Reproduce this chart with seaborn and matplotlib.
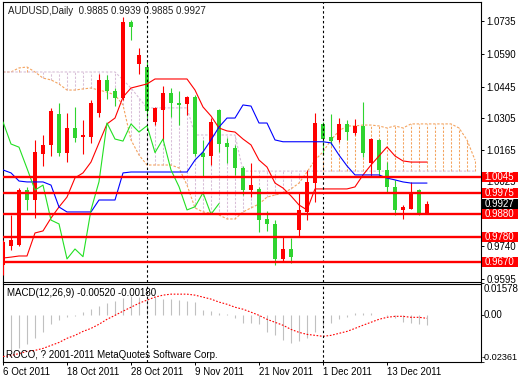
import numpy as np
import pandas as pd
import matplotlib
matplotlib.use("Agg")
import matplotlib.pyplot as plt
import matplotlib.transforms as mtransforms
from matplotlib.patches import Rectangle
import seaborn as sns

sns.set_theme(style="white")
plt.rcParams["font.family"] = ["Liberation Sans", "DejaVu Sans"]

# ---------------- data ----------------
symbol_title = "AUDUSD,Daily  0.9885 0.9939 0.9885 0.9927"
dates = pd.bdate_range("2011-10-06", periods=54)

opens = [0.9655, 0.9741, 0.9744, 0.9987, 0.9943, 1.0147, 1.0187, 1.0324, 1.0151, 1.0262,
         1.0220, 1.0222, 1.0328, 1.0475, 1.0426, 1.0395, 1.0732, 1.0546, 1.0532, 1.0289,
         1.0342, 1.0417, 1.0373, 1.0368, 1.0399, 1.0153, 1.0138, 1.0342, 1.0197, 1.0172,
         1.0086, 0.9987, 0.9990, 0.9859, 0.9837, 0.9682, 0.9726, 0.9810, 0.9891, 1.0020,
         1.0280, 1.0222, 1.0209, 1.0280, 1.0239, 1.0272, 1.0108, 1.0209, 1.0076, 1.0002,
         0.9899, 0.9903, 0.9987, 0.9885]
highs = [0.9766, 0.9877, 0.9996, 1.0002, 1.0209, 1.0231, 1.0351, 1.0373, 1.0328, 1.0355,
         1.0297, 1.0386, 1.0501, 1.0497, 1.0439, 1.0754, 1.0740, 1.0616, 1.0563, 1.0355,
         1.0448, 1.0439, 1.0426, 1.0404, 1.0408, 1.0209, 1.0306, 1.0346, 1.0218, 1.0187,
         1.0094, 1.0108, 1.0002, 0.9894, 0.9854, 0.9778, 0.9773, 0.9974, 1.0076, 1.0328,
         1.0289, 1.0324, 1.0306, 1.0297, 1.0302, 1.0379, 1.0219, 1.0213, 1.0113, 1.0032,
         0.9921, 1.0024, 0.9992, 0.9939]
lows = [0.9611, 0.9722, 0.9739, 0.9899, 0.9863, 1.0094, 1.0138, 1.0138, 1.0111, 1.0200,
        1.0147, 1.0196, 1.0311, 1.0390, 1.0359, 1.0386, 1.0652, 1.0501, 1.0306, 1.0275,
        1.0209, 1.0311, 1.0275, 1.0320, 1.0138, 1.0046, 1.0098, 1.0156, 1.0108, 1.0054,
        0.9965, 0.9958, 0.9803, 0.9807, 0.9655, 0.9670, 0.9663, 0.9780, 0.9854, 0.9935,
        1.0142, 1.0187, 1.0200, 1.0209, 1.0231, 1.0135, 1.0049, 1.0046, 0.9973, 0.9877,
        0.9858, 0.9903, 0.9877, 0.9885]
closes = [0.9758, 0.9766, 0.9987, 0.9943, 1.0157, 1.0187, 1.0337, 1.0151, 1.0262, 1.0218,
          1.0231, 1.0373, 1.0475, 1.0426, 1.0395, 1.0732, 1.0709, 1.0585, 1.0337, 1.0351,
          1.0417, 1.0373, 1.0364, 1.0399, 1.0147, 1.0135, 1.0289, 1.0191, 1.0177, 1.0083,
          0.9987, 1.0009, 0.9854, 0.9837, 0.9682, 0.9726, 0.9692, 0.9899, 1.0024, 1.0284,
          1.0213, 1.0204, 1.0280, 1.0244, 1.0272, 1.0153, 1.0213, 1.0076, 1.0002, 0.9899,
          0.9913, 0.9975, 0.9880, 0.9927]

tenkan = [0.9686, 0.9690, 0.9695, 0.9695, 0.9797, 0.9806, 0.9863, 0.9912, 0.9956, 1.0041,
          1.0063, 1.0111, 1.0196, 1.0280, 1.0306, 1.0399, 1.0439, 1.0448, 1.0457, 1.0479,
          1.0479, 1.0479, 1.0479, 1.0479, 1.0430, 1.0355, 1.0315, 1.0262, 1.0249, 1.0244,
          1.0213, 1.0187, 1.0120, 1.0089, 1.0018, 0.9996, 0.9961, 0.9921, 0.9899, 0.9992,
          0.9992, 0.9992, 0.9992, 0.9992, 1.0001, 1.0054, 1.0098, 1.0138, 1.0178, 1.0138,
          1.0116, 1.0111, 1.0111, 1.0111]
kijun = [1.0076, 1.0063, 1.0027, 1.0023, 1.0023, 1.0023, 1.0009, 0.9912, 0.9890, 0.9890,
         0.9890, 0.9890, 0.9943, 0.9943, 0.9943, 1.0063, 1.0067, 1.0067, 1.0067, 1.0067,
         1.0067, 1.0067, 1.0067, 1.0067, 1.0120, 1.0156, 1.0209, 1.0266, 1.0306, 1.0306,
         1.0364, 1.0359, 1.0284, 1.0284, 1.0209, 1.0201, 1.0201, 1.0201, 1.0201, 1.0201,
         1.0201, 1.0196, 1.0142, 1.0094, 1.0054, 1.0054, 1.0054, 1.0054, 1.0040, 1.0032,
         1.0023, 1.0018, 1.0018, 1.0018]
chikou = [1.0289, 1.0191, 1.0177, 1.0083, 0.9987, 1.0009, 0.9854, 0.9837, 0.9682, 0.9726,
          0.9692, 0.9899, 1.0024, 1.0284, 1.0213, 1.0204, 1.0280, 1.0244, 1.0272, 1.0153,
          1.0213, 1.0076, 1.0002, 0.9899, 0.9913, 0.9975, 0.9880, 0.9927]
span_a = [1.0510, 1.0510, 1.0528, 1.0532, 1.0510, 1.0483, 1.0475, 1.0457, 1.0430, 1.0430,
          1.0435, 1.0439, 1.0430, 1.0421, 1.0408, 1.0364, 1.0209, 1.0142, 1.0098, 1.0098,
          1.0098, 1.0098, 1.0085, 1.0009, 0.9908, 0.9890, 0.9885, 0.9877, 0.9859, 0.9859,
          0.9890, 0.9908, 0.9925, 0.9956, 0.9965, 0.9974, 0.9992, 1.0018, 1.0067, 1.0120,
          1.0156, 1.0209, 1.0249, 1.0271, 1.0271, 1.0275, 1.0275, 1.0271, 1.0262, 1.0271,
          1.0262, 1.0280, 1.0280, 1.0280, 1.0280, 1.0280, 1.0280, 1.0262, 1.0209, 1.0120]
span_b = [1.0510] * 15 + [1.0475, 1.0439, 1.0395] + [1.0351] * 6 + [1.0231] * 6 + [1.0071] * 30

levels = [1.0045, 0.9975, 0.9880, 0.9780, 0.9670]
last_price = 0.9927
price_ticks = [1.0735, 1.0590, 1.0445, 1.0305, 1.0165, 1.0025, 0.9885, 0.9740, 0.9595]
price_tick_labels = ["1.0735", "1.0590", "1.0445", "1.0305", "1.0165", "1.0025", "", "0.9740", "0.9595"]

macd_hist = [-0.0206, -0.0180, -0.0170, -0.0150, -0.0119, -0.0089, -0.0048, -0.0028, -0.0013, -0.0008,
             0.0013, 0.0028, 0.0043, 0.0058, 0.0069, 0.0084, 0.0094, 0.0089, 0.0084, 0.0089,
             0.0079, 0.0079, 0.0074, 0.0069, 0.0064, 0.0023, 0.0018, 0.0008, 0.0003, -0.0018,
             -0.0043, -0.0043, -0.0048, -0.0089, -0.0104, -0.0130, -0.0145, -0.0135, -0.0119, -0.0089,
             -0.0053, -0.0043, -0.0023, -0.0013, 0.0008, 0.0008, 0.0008, -0.0003, -0.0008, -0.0018,
             -0.0038, -0.0043, -0.0048, -0.0052]
macd_signal = [-0.0211, -0.0206, -0.0196, -0.0185, -0.0180, -0.0170, -0.0155, -0.0140, -0.0119, -0.0104,
               -0.0084, -0.0069, -0.0048, -0.0023, -0.0003, 0.0018, 0.0038, 0.0058, 0.0074, 0.0089,
               0.0099, 0.0104, 0.0104, 0.0104, 0.0099, 0.0089, 0.0079, 0.0064, 0.0053, 0.0038,
               0.0028, 0.0013, -0.0003, -0.0023, -0.0038, -0.0053, -0.0074, -0.0089, -0.0099, -0.0104,
               -0.0109, -0.0104, -0.0094, -0.0084, -0.0069, -0.0053, -0.0038, -0.0023, -0.0013, -0.0008,
               -0.0008, -0.0013, -0.0013, -0.0018]
macd_max, macd_min = 0.01578, -0.02361
macd_title = "MACD(12,26,9) -0.00520 -0.00180"
copyright_text = "ROCO, ? 2001-2011 MetaQuotes Software Corp."

date_tick_idx = [0, 8, 16, 24, 32, 40, 48]
date_tick_labels = ["6 Oct 2011", "18 Oct 2011", "28 Oct 2011", "9 Nov 2011",
                    "21 Nov 2011", "1 Dec 2011", "13 Dec 2011"]
separator_idx = [18, 40]

# ---------------- styling ----------------
RED = "#FF0000"
GREEN = "#2FD42F"
LIME = "#22E022"
BLUE = "#0000FF"
SANDY = "#F4A460"
THISTLE = "#D8BFD8"
FS = 7
DOT = (0, (2.2, 1.5))

W, H = 520, 380
fig = plt.figure(figsize=(W / 100, H / 100), dpi=100)
fig.patch.set_facecolor("white")

def fx(px):
    return px / W

def fy(py):
    return 1 - py / H

ax = fig.add_axes([fx(2.5), fy(281.5), fx(481) - fx(2.5), fy(2) - fy(281.5)])
ax2 = fig.add_axes([fx(2.5), fy(361.5), fx(481) - fx(2.5), fy(283.5) - fy(361.5)])

n = len(closes)
x = np.arange(n)
xc = np.arange(len(span_a))
o = np.array(opens); c = np.array(closes)
hi = np.array(highs); lo = np.array(lows)

# cloud hatch
sa = np.array(span_a); sb = np.array(span_b)
hcol = np.where(sa >= sb, SANDY, THISTLE)
ax.vlines(xc, np.minimum(sa, sb), np.maximum(sa, sb), colors=hcol, lw=0.75,
          linestyles=DOT, zorder=1)
ax.plot(xc, sa, color=SANDY, lw=0.8, ls=DOT, zorder=1.5)
ax.plot(xc, sb, color=THISTLE, lw=0.8, ls=DOT, zorder=1.5)

# candles
ccol = np.where(c >= o, RED, GREEN)
ax.vlines(x, lo, hi, colors=ccol, lw=0.8, zorder=3)
body = np.maximum(np.abs(c - o), 0.0005)
ax.bar(x, body, bottom=np.minimum(o, c), width=0.6, color=ccol, lw=0, zorder=3)

# ichimoku lines
sns.lineplot(x=x, y=tenkan, ax=ax, color=RED, lw=0.8, zorder=4)
sns.lineplot(x=x, y=kijun, ax=ax, color=BLUE, lw=0.8, zorder=4)
sns.lineplot(x=np.arange(len(chikou)), y=chikou, ax=ax, color=LIME, lw=0.8, zorder=4)

# separators
for s in separator_idx:
    ax.axvline(s, color="black", lw=0.8, ls=(0, (2.2, 2.2)), zorder=5)
    ax2.axvline(s, color="black", lw=0.8, ls=(0, (2.2, 2.2)), zorder=5)

# support / resistance
for lv in levels:
    ax.axhline(lv, color=RED, lw=1.7, zorder=6)

x_lim = (-0.0625, 59.75)
ax.set_xlim(*x_lim)
ax.set_ylim(0.9582, 1.0820)
ax.set_xticks([])
ax.yaxis.tick_right()
ax.set_yticks(price_ticks)
ax.set_yticklabels(price_tick_labels)
ax.tick_params(axis="y", direction="out", length=2.2, width=0.7, pad=1.6,
               labelsize=FS, colors="black", right=True, left=False)
ax.set_xlabel(""); ax.set_ylabel("")

trans = mtransforms.blended_transform_factory(ax.transAxes, ax.transData)
bw = (518 - 482) / 478.5
bx = (482 - 2.5) / 478.5
tx = (484.5 - 2.5) / 478.5
bh = 10 * 0.000443
for lv in levels:
    ax.add_patch(Rectangle((bx, lv - bh / 2), bw, bh, transform=trans, clip_on=False,
                           fc=RED, ec="none", zorder=10))
    ax.text(tx, lv, f"{lv:.4f}", transform=trans, color="white", fontsize=FS,
            va="center", ha="left", zorder=11, clip_on=False)
ax.add_patch(Rectangle((bx, last_price - bh / 2), bw, bh, transform=trans, clip_on=False,
                       fc="black", ec="none", zorder=10))
ax.text(tx, last_price, f"{last_price:.4f}", transform=trans, color="white", fontsize=FS,
        va="center", ha="left", zorder=11, clip_on=False)

# MACD panel
ax2.vlines(x, 0, macd_hist, colors="#C0C0C0", lw=0.8, zorder=2)
ax2.plot(x, macd_signal, color=RED, lw=0.8, ls=(0, (1.5, 1.5)), zorder=3)
ax2.set_xlim(*x_lim)
ax2.set_ylim(macd_min, macd_max)
ax2.yaxis.tick_right()
ax2.set_yticks([macd_max, 0.0, macd_min])
ax2.set_yticklabels(["", "", ""])
ax2.tick_params(axis="y", direction="out", length=2.2, width=0.7, right=True, left=False)
t2 = mtransforms.blended_transform_factory(ax2.transAxes, ax2.transData)
lx = (483.5 - 2.5) / 478.5
ax2.text(lx, macd_max, f"{macd_max:.5f}", transform=t2, fontsize=FS, va="top", ha="left",
         clip_on=False, color="black")
ax2.text(lx, 0.0, "0.00", transform=t2, fontsize=FS, va="center", ha="left",
         clip_on=False, color="black")
ax2.text((482 - 2.5) / 478.5, macd_min, f"{macd_min:.5f}", transform=t2, fontsize=6.6,
         va="bottom", ha="left", clip_on=False, color="black")
ax2.set_xticks(date_tick_idx)
ax2.set_xticklabels(date_tick_labels)
for lab in ax2.get_xticklabels():
    lab.set_ha("left")
ax2.tick_params(axis="x", direction="out", length=2.5, width=0.7, pad=1.2,
                labelsize=FS, colors="black", bottom=True)
ax2.text(4.5 / 478.5, 0.88, macd_title, transform=ax2.transAxes, fontsize=FS,
         va="center", ha="left", color="black")
ax2.text(3 / 478.5, 0.08, copyright_text, transform=ax2.transAxes, fontsize=FS,
         va="center", ha="left", color="black", zorder=8)

for a in (ax, ax2):
    a.set_facecolor("white")
    for sp in a.spines.values():
        sp.set_color("black")
        sp.set_linewidth(0.8)
        sp.set_visible(True)

fig.text(fx(8), fy(11), symbol_title, fontsize=FS, va="center", ha="left", color="#202020")

fig.savefig("out.png", dpi=100, facecolor="white")
